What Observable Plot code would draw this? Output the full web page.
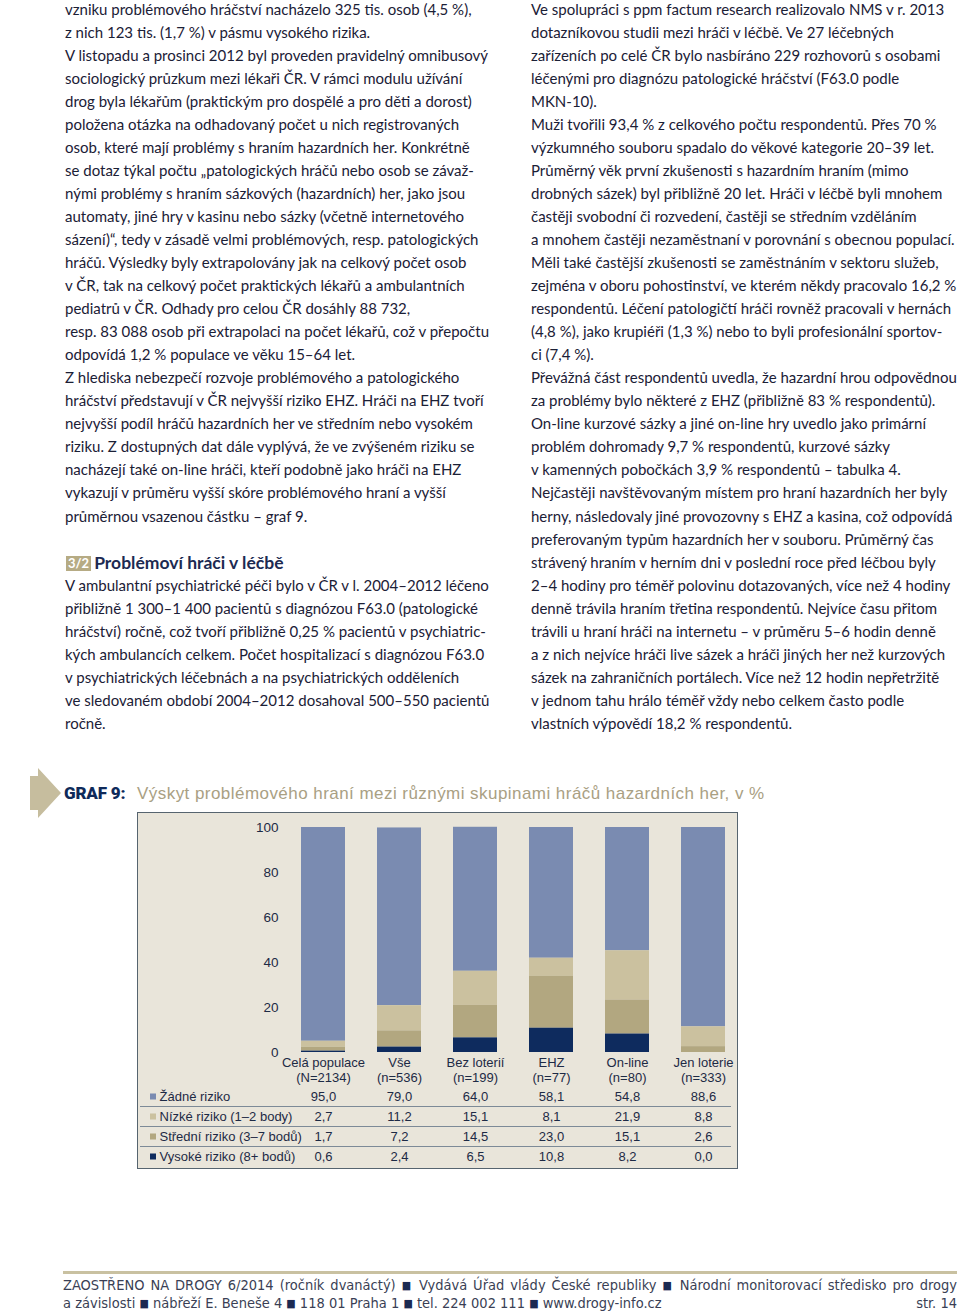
<!DOCTYPE html>
<html><head><meta charset="utf-8">
<script src="https://cdn.jsdelivr.net/npm/d3@7"></script>
<script src="https://cdn.jsdelivr.net/npm/@observablehq/plot@0.6"></script>
<style>
body{margin:0;width:960px;height:1315px;position:relative;background:#fff;overflow:hidden;font-family:Lato,"Open Sans",sans-serif;color:#1b2036;}
.col{position:absolute;top:-2.5px;width:445px;font-size:15px;}
.col div{height:23.06px;line-height:23.06px;white-space:nowrap;}
.sec{font-weight:bold;font-size:17.5px;color:#1c2a52;}
.badge{display:inline-block;background:#b6ab84;color:#fff;font-size:13px;font-weight:bold;line-height:15px;padding:0 2px;margin:0 3px 0 1px;vertical-align:1px;}
#arrow{position:absolute;left:0;top:760px;}
#gtitle{position:absolute;left:64px;top:782px;white-space:nowrap;line-height:22px;}
#gtitle b{display:inline-block;width:73px;font-family:Roboto,sans-serif;font-weight:900;color:#0f2a5a;letter-spacing:-0.2px;font-size:17px;}
#gtitle span{color:#a9a083;font-family:"Liberation Sans",Arial,sans-serif;font-size:17px;letter-spacing:0.45px;}
#box{position:absolute;left:137px;top:812px;width:599px;height:355px;border:1px solid #56646f;background:#e9e5da;}
#box svg{display:block;overflow:visible;}
#footline{position:absolute;left:63px;top:1271px;width:894px;height:3px;background:#c9c1a1;}
.foot{position:absolute;left:63px;width:894px;font-family:"Liberation Sans Narrow","DejaVu Sans Condensed",sans-serif;font-size:14.5px;color:#3a3f55;white-space:nowrap;line-height:18px;}
.foot i{font-style:normal;color:#1c2a52;font-size:11px;vertical-align:1px;}
</style></head><body>

<div class="col" style="left:65px">
<div>vzniku problémového hráčství nacházelo 325 tis. osob (4,5 %),</div>
<div>z nich 123 tis. (1,7 %) v pásmu vysokého rizika.</div>
<div>V listopadu a prosinci 2012 byl proveden pravidelný omnibusový</div>
<div>sociologický průzkum mezi lékaři ČR. V rámci modulu užívání</div>
<div>drog byla lékařům (praktickým pro dospělé a pro děti a dorost)</div>
<div>položena otázka na odhadovaný počet u nich registrovaných</div>
<div>osob, které mají problémy s hraním hazardních her. Konkrétně</div>
<div>se dotaz týkal počtu „patologických hráčů nebo osob se závaž-</div>
<div>nými problémy s hraním sázkových (hazardních) her, jako jsou</div>
<div>automaty, jiné hry v kasinu nebo sázky (včetně internetového</div>
<div>sázení)“, tedy v zásadě velmi problémových, resp. patologických</div>
<div>hráčů. Výsledky byly extrapolovány jak na celkový počet osob</div>
<div>v ČR, tak na celkový počet praktických lékařů a ambulantních</div>
<div>pediatrů v ČR. Odhady pro celou ČR dosáhly 88 732,</div>
<div>resp. 83 088 osob při extrapolaci na počet lékařů, což v přepočtu</div>
<div>odpovídá 1,2 % populace ve věku 15–64 let.</div>
<div>Z hlediska nebezpečí rozvoje problémového a patologického</div>
<div>hráčství představují v ČR nejvyšší riziko EHZ. Hráči na EHZ tvoří</div>
<div>nejvyšší podíl hráčů hazardních her ve středním nebo vysokém</div>
<div>riziku. Z dostupných dat dále vyplývá, že ve zvýšeném riziku se</div>
<div>nacházejí také on-line hráči, kteří podobně jako hráči na EHZ</div>
<div>vykazují v průměru vyšší skóre problémového hraní a vyšší</div>
<div>průměrnou vsazenou částku – graf 9.</div>
<div></div>
<div class="sec"><span class="badge">3/2</span>Problémoví hráči v léčbě</div>
<div>V ambulantní psychiatrické péči bylo v ČR v l. 2004–2012 léčeno</div>
<div>přibližně 1 300–1 400 pacientů s diagnózou F63.0 (patologické</div>
<div>hráčství) ročně, což tvoří přibližně 0,25 % pacientů v psychiatric-</div>
<div>kých ambulancích celkem. Počet hospitalizací s diagnózou F63.0</div>
<div>v psychiatrických léčebnách a na psychiatrických odděleních</div>
<div>ve sledovaném období 2004–2012 dosahoval 500–550 pacientů</div>
<div>ročně.</div>
</div>

<div class="col" style="left:531px">
<div>Ve spolupráci s ppm factum research realizovalo NMS v r. 2013</div>
<div>dotazníkovou studii mezi hráči v léčbě. Ve 27 léčebných</div>
<div>zařízeních po celé ČR bylo nasbíráno 229 rozhovorů s osobami</div>
<div>léčenými pro diagnózu patologické hráčství (F63.0 podle</div>
<div>MKN-10).</div>
<div>Muži tvořili 93,4 % z celkového počtu respondentů. Přes 70 %</div>
<div>výzkumného souboru spadalo do věkové kategorie 20–39 let.</div>
<div>Průměrný věk první zkušenosti s hazardním hraním (mimo</div>
<div>drobných sázek) byl přibližně 20 let. Hráči v léčbě byli mnohem</div>
<div>častěji svobodní či rozvedení, častěji se středním vzděláním</div>
<div>a mnohem častěji nezaměstnaní v porovnání s obecnou populací.</div>
<div>Měli také častější zkušenosti se zaměstnáním v sektoru služeb,</div>
<div>zejména v oboru pohostinství, ve kterém někdy pracovalo 16,2 %</div>
<div>respondentů. Léčení patologičtí hráči rovněž pracovali v hernách</div>
<div>(4,8 %), jako krupiéři (1,3 %) nebo to byli profesionální sportov-</div>
<div>ci (7,4 %).</div>
<div>Převážná část respondentů uvedla, že hazardní hrou odpovědnou</div>
<div>za problémy bylo některé z EHZ (přibližně 83 % respondentů).</div>
<div>On-line kurzové sázky a jiné on-line hry uvedlo jako primární</div>
<div>problém dohromady 9,7 % respondentů, kurzové sázky</div>
<div>v kamenných pobočkách 3,9 % respondentů – tabulka 4.</div>
<div>Nejčastěji navštěvovaným místem pro hraní hazardních her byly</div>
<div>herny, následovaly jiné provozovny s EHZ a kasina, což odpovídá</div>
<div>preferovaným typům hazardních her v souboru. Průměrný čas</div>
<div>strávený hraním v herním dni v poslední roce před léčbou byly</div>
<div>2–4 hodiny pro téměř polovinu dotazovaných, více než 4 hodiny</div>
<div>denně trávila hraním třetina respondentů. Nejvíce času přitom</div>
<div>trávili u hraní hráči na internetu – v průměru 5–6 hodin denně</div>
<div>a z nich nejvíce hráči live sázek a hráči jiných her než kurzových</div>
<div>sázek na zahraničních portálech. Více než 12 hodin nepřetržitě</div>
<div>v jednom tahu hrálo téměř vždy nebo celkem často podle</div>
<div>vlastních výpovědí 18,2 % respondentů.</div>
</div>

<svg id="arrow" width="70" height="66"><polygon points="30,16 38,16 38,8 61,33 38,58 38,50 30,50" fill="#c6bd9e"/></svg>
<div id="gtitle"><b>GRAF 9:</b><span>Výskyt problémového hraní mezi různými skupinami hráčů hazardních her, v %</span></div>

<div id="box"></div>

<div id="footline"></div>
<div class="foot" style="top:1276px;text-align:justify;text-align-last:justify;">ZAOSTŘENO NA DROGY 6/2014 (ročník dvanáctý) <i>■</i> Vydává Úřad vlády České republiky <i>■</i> Národní monitorovací středisko pro drogy</div>
<div class="foot" style="top:1294px;">a závislosti <i>■</i> nábřeží E. Beneše 4 <i>■</i> 118 01 Praha 1 <i>■</i> tel. 224 002 111 <i>■</i> www.drogy-info.cz<span style="position:absolute;right:0;">str. 14</span></div>

<script>
const groups = ["Celá populace", "Vše", "Bez loterií", "EHZ", "On-line", "Jen loterie"];
const groupN = ["(N=2134)", "(n=536)", "(n=199)", "(n=77)", "(n=80)", "(n=333)"];
const risks = ["Žádné riziko", "Nízké riziko (1–2 body)", "Střední riziko (3–7 bodů)", "Vysoké riziko (8+ bodů)"];
const zadne   = [95.0, 79.0, 64.0, 58.1, 54.8, 88.6];
const nizke   = [2.7, 11.2, 15.1, 8.1, 21.9, 8.8];
const stredni = [1.7, 7.2, 14.5, 23.0, 15.1, 2.6];
const vysoke  = [0.6, 2.4, 6.5, 10.8, 8.2, 0.0];
const yTicks = [0, 20, 40, 60, 80, 100];
const colors = ["#7a8bb1", "#cbc19f", "#b2a780", "#0e2b5e"];

const series = [zadne, nizke, stredni, vysoke];
const rows = [];
groups.forEach((g, i) => risks.forEach((r, j) => rows.push({group: g, risk: r, ri: j, value: series[j][i]})));
const fmt = v => v.toFixed(1).replace(".", ",");
const textColor = "#1d2a45";
const font = "'Liberation Sans', Arial, sans-serif";
const ML = 163, MR = 11;

const chart = Plot.plot({
  width: 599, height: 271,
  marginLeft: ML, marginRight: MR, marginTop: 14, marginBottom: 32,
  style: {background: "transparent", fontFamily: font, fontSize: "13px", color: textColor},
  x: {type: "band", domain: groups, paddingInner: 0.42, paddingOuter: 0},
  y: {domain: [0, 100]},
  color: {domain: risks, range: colors},
  marks: [
    Plot.barY(rows, {x: "group", y: "value", fill: "risk", order: risks.slice().reverse()}),
    Plot.axisX({tickSize: 0, tickPadding: 4, label: null, fontSize: 13, lineHeight: 1.15,
      tickFormat: d => d + "\n" + groupN[groups.indexOf(d)]}),
    Plot.axisY({ticks: yTicks, tickSize: 0, tickPadding: 23, label: null, fontSize: 13.5})
  ]
});

const table = Plot.plot({
  width: 599, height: 84,
  marginLeft: ML, marginRight: MR, marginTop: 2, marginBottom: 2,
  style: {background: "transparent", fontFamily: font, fontSize: "13px", color: textColor},
  x: {type: "band", domain: groups, paddingInner: 0.42, paddingOuter: 0, axis: null},
  y: {domain: [risks.length, 0], axis: null},
  color: {domain: risks, range: colors},
  marks: [
    Plot.ruleY([1, 2, 3], {stroke: "#7d8a97", strokeWidth: 1.2, insetLeft: -(ML - 2), insetRight: -(MR - 6)}),
    Plot.dot(risks, {y: (d, i) => i + 0.5, frameAnchor: "left", dx: 14.5 - ML, symbol: "square", r: 3.4, fill: d => d}),
    Plot.text(risks, {y: (d, i) => i + 0.5, frameAnchor: "left", dx: 21 - ML, text: d => d, textAnchor: "start", fill: textColor}),
    Plot.text(rows, {x: "group", y: d => d.ri + 0.5, text: d => fmt(d.value), fill: textColor})
  ]
});

const box = document.getElementById("box");
box.appendChild(chart);
box.appendChild(table);
</script>
</body></html>
